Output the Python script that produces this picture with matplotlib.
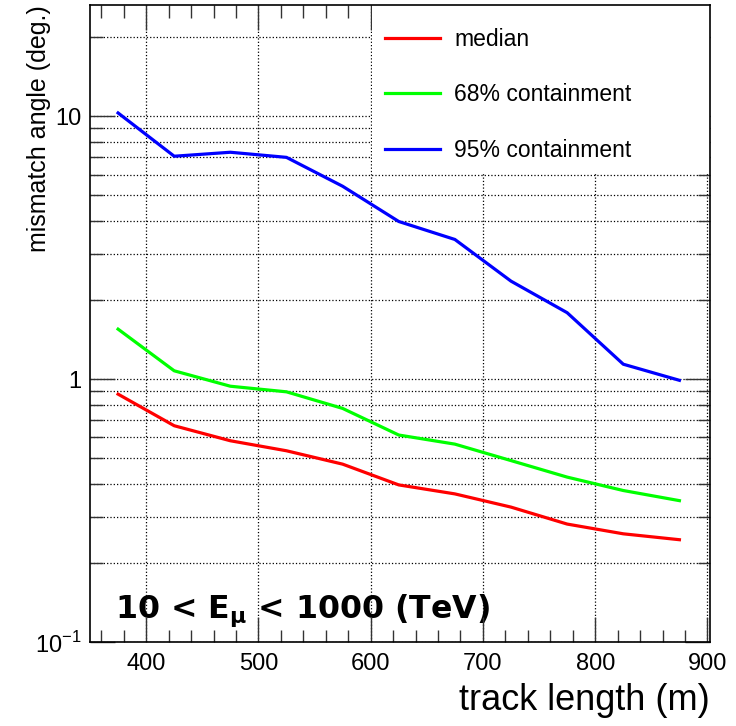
import matplotlib
matplotlib.use("Agg")
import matplotlib.pyplot as plt
import numpy as np
from matplotlib.patches import Rectangle
from matplotlib.ticker import LogLocator, FixedLocator, MultipleLocator, NullFormatter

plt.rcParams['font.family'] = ['Liberation Sans', 'DejaVu Sans']
plt.rcParams['mathtext.fontset'] = 'custom'
plt.rcParams['mathtext.rm'] = 'Liberation Sans'
plt.rcParams['mathtext.bf'] = 'DejaVu Sans:bold'

# track length bins (m)
track_len = [375, 425, 475, 525, 575, 625, 675, 725, 775, 825, 875]
median = [0.877, 0.665, 0.583, 0.534, 0.475, 0.396, 0.366, 0.326, 0.281, 0.258, 0.245]
cont68 = [1.55, 1.076, 0.94, 0.895, 0.774, 0.613, 0.566, 0.49, 0.424, 0.377, 0.345]
cont95 = [10.3, 7.05, 7.30, 6.98, 5.42, 3.98, 3.40, 2.36, 1.79, 1.14, 0.99]

fig = plt.figure(figsize=(7.36, 7.26), dpi=100)
ax = fig.add_axes([0.1223, 0.1157, 0.8420, 0.8773])

ax.plot(track_len, median, color='#ff0000', lw=2.3, label='median', zorder=3)
ax.plot(track_len, cont68, color='#00ff00', lw=2.3, label='68% containment', zorder=3)
ax.plot(track_len, cont95, color='#0000ff', lw=2.3, label='95% containment', zorder=3)

ax.set_yscale('log')
ax.set_xlim(350, 902)
ax.set_ylim(0.1, 26.5)

ax.xaxis.set_major_locator(MultipleLocator(100))
ax.xaxis.set_minor_locator(MultipleLocator(20))
ax.yaxis.set_major_locator(FixedLocator([0.1, 1, 10]))
ax.yaxis.set_minor_locator(LogLocator(base=10, subs=np.arange(2, 10)))
ax.yaxis.set_minor_formatter(NullFormatter())
ax.set_yticklabels([r'$10^{-1}$', '1', '10'])

ax.tick_params(which='both', direction='in', top=True, right=True, width=1, color='#333333')
ax.tick_params(which='major', length=18, labelsize=17, pad=6)
ax.tick_params(which='minor', length=9)
ax.tick_params(axis='x', which='major', pad=8)

ax.grid(True, which='major', axis='x', linestyle=':', color='black', lw=0.9)
ax.grid(True, which='both', axis='y', linestyle=':', color='black', lw=0.9)

for s in ax.spines.values():
    s.set_linewidth(1.2)

ax.set_xlabel('track length (m)', fontsize=26, loc='right', labelpad=6)
ax.set_ylabel('mismatch angle (deg.)', fontsize=18, loc='top')
ax.yaxis.set_label_coords(-0.063, 1.0)

# energy range label (grid is drawn over it, as in the original)
ax.text(0.041, 0.039, r'10 < E$_{\mathbf{μ}}$ < 1000 (TeV)', transform=ax.transAxes,
        fontsize=22.8, fontweight='bold', family='DejaVu Sans', ha='left', va='baseline',
        zorder=1)

# white legend box hiding the grid
ax.add_patch(Rectangle((0.455, 0.735), 0.545, 0.265, transform=ax.transAxes,
                       facecolor='white', edgecolor='none', zorder=2))
leg = ax.legend(loc='upper left', bbox_to_anchor=(0.455, 0.984), fontsize=16.5,
                handlelength=2.4, handletextpad=0.65, labelspacing=1.42,
                borderpad=0.55, borderaxespad=0.0, frameon=False)
leg.set_zorder(5)

fig.savefig('out.png', dpi=100)
